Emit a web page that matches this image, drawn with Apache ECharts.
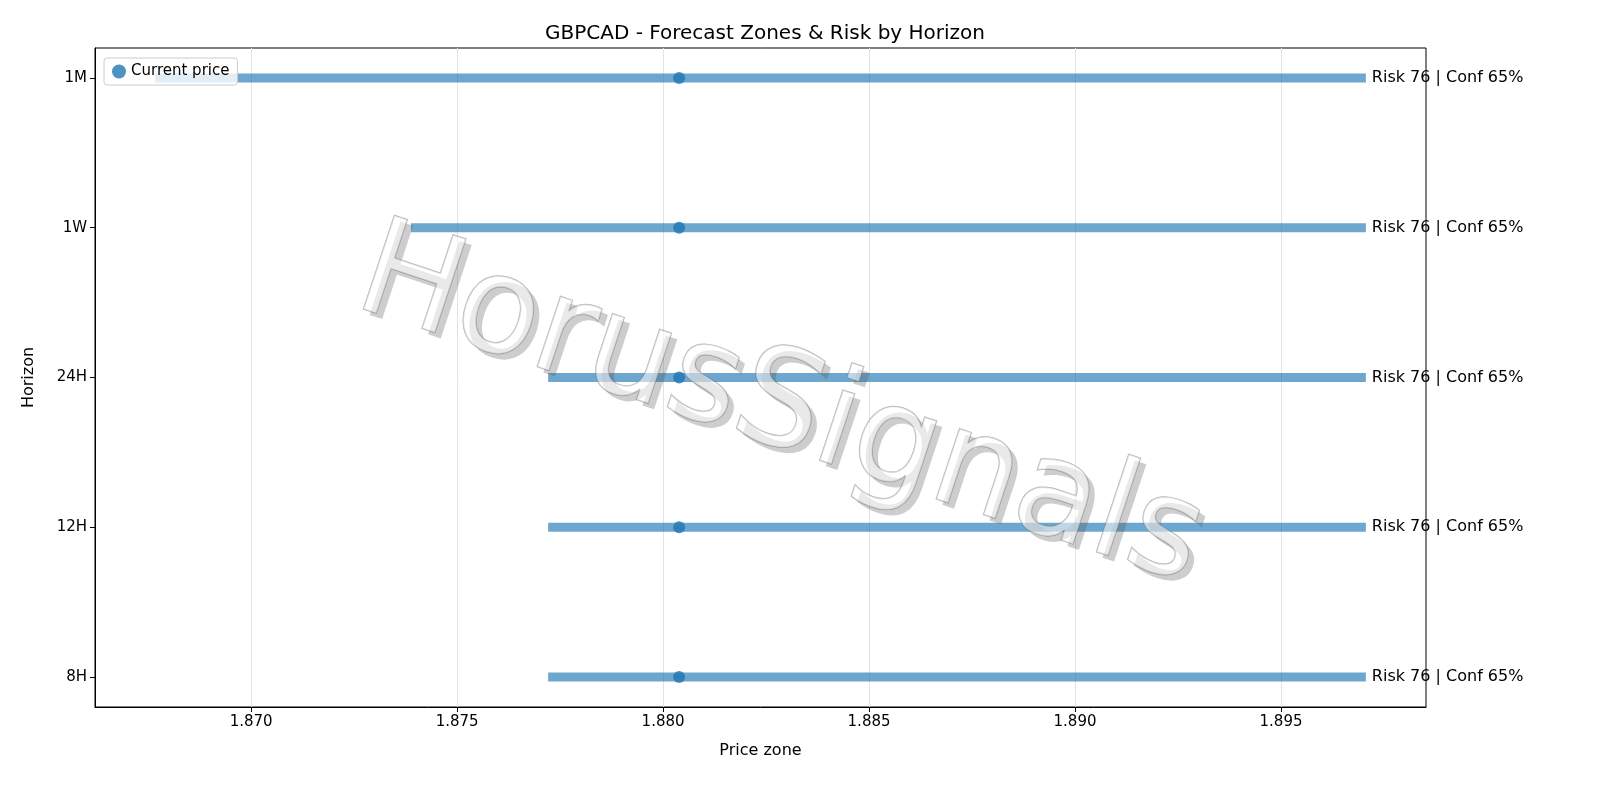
<!DOCTYPE html>
<html><head><meta charset="utf-8">
<script src="https://cdn.jsdelivr.net/npm/echarts@6/dist/echarts.min.js"></script>
<style>html,body{margin:0;padding:0;background:#fff}#c{width:1600px;height:800px}</style>
</head><body><div id="c"></div>
<script>
const horizons = ['8H','12H','24H','1W','1M'];
const zoneLow = [1.87721, 1.87721, 1.87721, 1.87388, 1.86767];
const zoneHigh = [1.89706, 1.89706, 1.89706, 1.89706, 1.89706];
const currentPrice = [1.88039, 1.88039, 1.88039, 1.88039, 1.88039];
const riskLabels = ['Risk 76 | Conf 65%','Risk 76 | Conf 65%','Risk 76 | Conf 65%','Risk 76 | Conf 65%','Risk 76 | Conf 65%'];
const xTicks = [1.870,1.875,1.880,1.885,1.890,1.895];

const chart = echarts.init(document.getElementById('c'));
const font = 'DejaVu Sans';
chart.setOption({
  animation:false,
  textStyle:{fontFamily:font},
  title:{text:'GBPCAD - Forecast Zones & Risk by Horizon',left:760,top:19,textAlign:'center',
    textStyle:{fontFamily:font,fontSize:20,fontWeight:'normal',color:'#000'}},
  grid:{left:95,right:174,top:48,bottom:93,containLabel:false,outerBoundsMode:'none',
    show:true,borderColor:'#000',borderWidth:1,backgroundColor:'transparent'},
  xAxis:{type:'value',min:1.86621,max:1.89852,
    name:'Price zone',nameLocation:'middle',nameGap:36,nameTextStyle:{fontSize:16,color:'#000'},
    axisLine:{onZero:false,lineStyle:{color:'#000'}},
    axisLabel:{color:'#000',fontSize:15,customValues:xTicks,formatter:v=>v.toFixed(3)},
    axisTick:{show:true,length:5,customValues:xTicks,lineStyle:{color:'#000'}},
    splitLine:{show:true,lineStyle:{color:'#e3e3e3'}}},
  yAxis:{type:'value',min:-0.2,max:4.2,
    name:'Horizon',nameLocation:'middle',nameGap:58,nameTextStyle:{fontSize:16,color:'#000'},
    axisLine:{show:true,onZero:false,lineStyle:{color:'#000'}},
    axisTick:{show:true,length:5,customValues:[0,1,2,3,4],lineStyle:{color:'#000'}},
    axisLabel:{color:'#000',fontSize:15,customValues:[0,1,2,3,4],formatter:v=>horizons[Math.round(v)]},
    splitLine:{show:false}},
  legend:{left:104,top:58,itemWidth:14,itemHeight:14,padding:[6,8],
    borderColor:'#ccc',borderWidth:1,borderRadius:3,backgroundColor:'rgba(255,255,255,0.8)',
    textStyle:{fontSize:15,color:'#000'},data:['Current price']},
  graphic:[
    {type:'text',x:786,y:416,rotation:-0.32,z:99,
      style:{text:'HorusSignals',font:'135px "DejaVu Sans"',fill:'rgba(90,90,90,0.3)',
        align:'center',verticalAlign:'middle'}},
    {type:'text',x:780,y:410,rotation:-0.32,z:100,
      style:{text:'HorusSignals',font:'135px "DejaVu Sans"',fill:'rgba(255,255,255,0.55)',
        stroke:'rgba(110,110,110,0.5)',lineWidth:1.5,
        align:'center',verticalAlign:'middle'}}],
  series:[
    {type:'custom',name:'zone',data:horizons.map((h,i)=>[zoneLow[i],zoneHigh[i],i]),
      renderItem:(p,api)=>{
        const a=api.coord([api.value(0),api.value(2)]),b=api.coord([api.value(1),api.value(2)]);
        return {type:'group',children:[
          {type:'line',shape:{x1:a[0],y1:a[1],x2:b[0],y2:b[1]},style:{stroke:'rgba(31,119,180,0.65)',lineWidth:9}},
          {type:'text',x:b[0]+6,y:b[1],style:{text:riskLabels[p.dataIndex],font:'16px "DejaVu Sans"',fill:'#000',verticalAlign:'middle'}}
        ]};
      }},
    {type:'scatter',name:'Current price',data:horizons.map((h,i)=>[currentPrice[i],i]),
      symbolSize:12,itemStyle:{color:'#1f77b4'},z:5}
  ]
});
</script></body></html>
